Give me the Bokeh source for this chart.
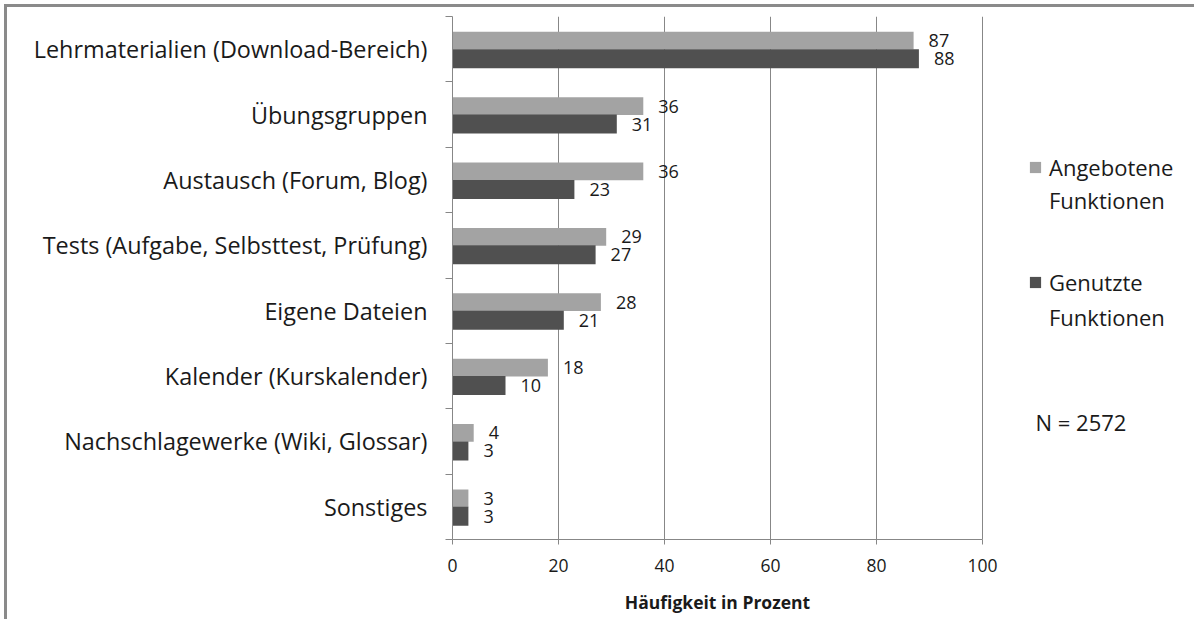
from bokeh.plotting import figure
from bokeh.models import (Range1d, FixedTicker, ColumnDataSource, LabelSet,
                          Legend, LegendItem, Label)
from bokeh.core.properties import value
from bokeh.transform import dodge
from bokeh.embed import file_html
from bokeh.resources import INLINE

categories = ["Lehrmaterialien (Download-Bereich)", "Übungsgruppen",
              "Austausch (Forum, Blog)", "Tests (Aufgabe, Selbsttest, Prüfung)",
              "Eigene Dateien", "Kalender (Kurskalender)",
              "Nachschlagewerke (Wiki, Glossar)", "Sonstiges"]
angeboten = [87, 36, 36, 29, 28, 18, 4, 3]
genutzt = [88, 31, 23, 27, 21, 10, 3, 3]
x_ticks = [0, 20, 40, 60, 80, 100]
x_title = "Häufigkeit in Prozent"
series_first = ["Angebotene", "Genutzte"]
series_second = ["Funktionen", "Funktionen"]
note = "N = 2572"

n = len(categories)
ypos = [n - i - 0.5 for i in range(n)]

src = ColumnDataSource(dict(
    y=ypos, a=angeboten, g=genutzt,
    a_txt=[str(v) for v in angeboten], g_txt=[str(v) for v in genutzt]))

FONT = "Open Sans"
TXT = "#1a1a1a"
GRID = "#878787"
LIGHT = "#a3a3a3"
DARK = "#505050"
PX_PER_UNIT = 5.3
FRAME_W = 742

p = figure(width=1190, height=615, x_range=Range1d(0, FRAME_W / PX_PER_UNIT),
           y_range=Range1d(0, n),
           output_backend="svg", toolbar_location=None,
           min_border_left=445, min_border_right=3, min_border_top=9,
           min_border_bottom=83)
p.styles = {"border-left": "3px solid #8a8a8a", "border-top": "3px solid #8a8a8a",
            "margin-left": "4px", "margin-top": "4px"}
p.outline_line_color = None
p.background_fill_color = "white"
p.border_fill_color = "white"

r1 = p.hbar(y=dodge("y", 0.13, range=p.y_range), right="a", left=0, height=0.27,
            source=src, fill_color=LIGHT, line_color=None)
r2 = p.hbar(y=dodge("y", -0.145, range=p.y_range), right="g", left=0, height=0.29,
            source=src, fill_color=DARK, line_color=None)

for col, off in (("a", 0.13), ("g", -0.145)):
    p.add_layout(LabelSet(x=col, y=dodge("y", off, range=p.y_range), text=col + "_txt",
                          source=src, x_offset=15, text_baseline="middle",
                          text_font=value(FONT), text_font_size="18px",
                          text_color=TXT))

# x axis
xa = p.xaxis[0]
xa.bounds = (x_ticks[0], x_ticks[-1])
xa.ticker = FixedTicker(ticks=x_ticks, minor_ticks=[])
xa.major_label_text_font = FONT
xa.major_label_text_font_size = "17.5px"
xa.major_label_text_color = TXT
xa.major_label_standoff = 14
xa.axis_line_color = GRID
xa.major_tick_line_color = GRID
xa.major_tick_out = 5
xa.major_tick_in = 0

# axis title centred under the 0..100 span
p.add_layout(Label(x=(x_ticks[0] + x_ticks[-1]) / 2, y=-3, x_units="data",
                   y_units="screen", text=x_title, text_align="center",
                   text_baseline="middle", text_font=FONT,
                   text_font_style="bold", text_font_size="17.5px",
                   text_color=TXT), "below")

# y axis
ya = p.yaxis[0]
ya.ticker = FixedTicker(ticks=ypos, minor_ticks=list(range(n + 1)))
ya.major_label_overrides = {y: c for y, c in zip(ypos, categories)}
ya.major_label_text_font = FONT
ya.major_label_text_font_size = "23.4px"
ya.major_label_text_color = TXT
ya.major_label_standoff = 18
ya.major_tick_line_color = None
ya.major_tick_out = 0
ya.major_tick_in = 0
ya.minor_tick_line_color = GRID
ya.minor_tick_out = 7
ya.minor_tick_in = 0
ya.axis_line_color = GRID

p.xgrid.ticker = FixedTicker(ticks=x_ticks[1:])
p.xgrid.grid_line_color = GRID
p.ygrid.grid_line_color = None

legend_common = dict(padding=0, margin=0, border_line_color=None,
                     background_fill_alpha=0, glyph_width=14, glyph_height=14,
                     label_standoff=7, label_text_font=FONT,
                     label_text_font_size="22px", label_text_color=TXT)
leg1 = Legend(items=[LegendItem(label=series_first[0], renderers=[r1]),
                     LegendItem(label=series_second[0], renderers=[])],
              location=(576, 324), spacing=3, **legend_common)
leg2 = Legend(items=[LegendItem(label=series_first[1], renderers=[r2]),
                     LegendItem(label=series_second[1], renderers=[])],
              location=(576, 207), spacing=5, **legend_common)
p.add_layout(leg1, "center")
p.add_layout(leg2, "center")

p.add_layout(Label(x=583, y=118, x_units="screen", y_units="screen", text=note,
                   text_font=FONT, text_font_size="22px", text_color=TXT,
                   text_baseline="middle"))

open("out.html", "w").write(file_html(p, INLINE))
